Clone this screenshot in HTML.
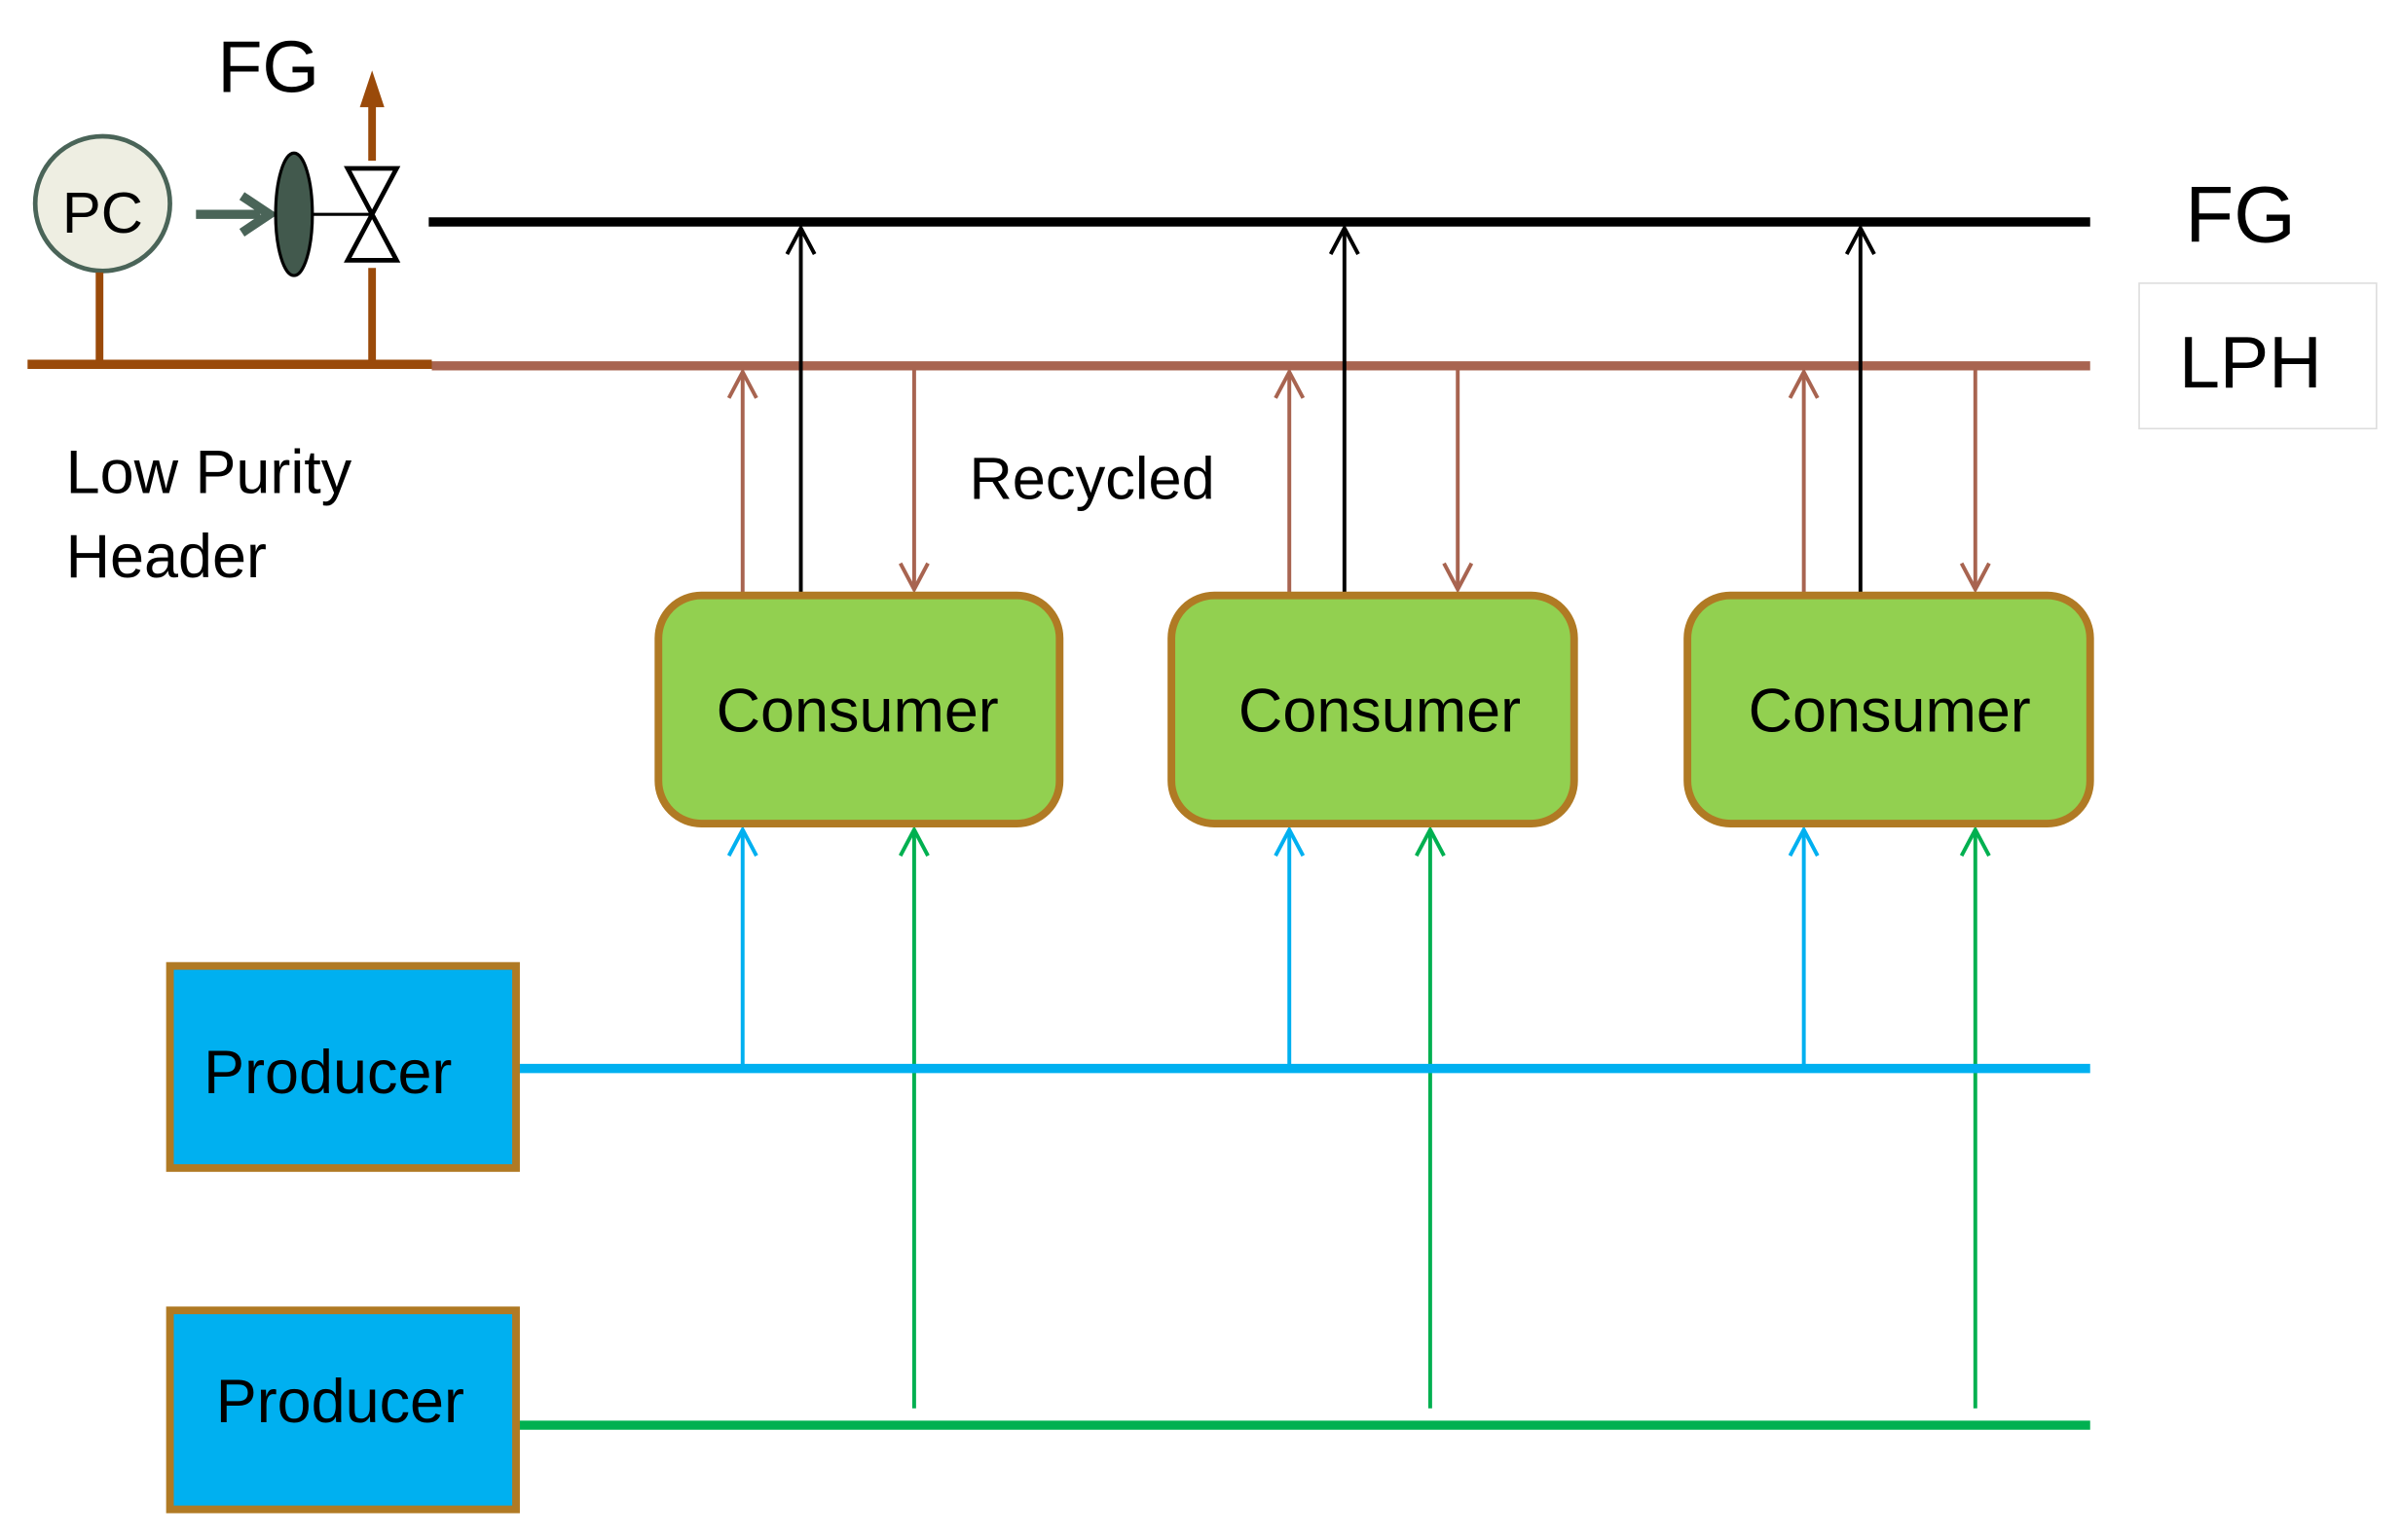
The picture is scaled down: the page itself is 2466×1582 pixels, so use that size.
<!DOCTYPE html>
<html><head><style>html,body{margin:0;padding:0;background:#fff}svg{display:block}</style></head>
<body>
<svg width="2466" height="1582" viewBox="0 0 1568 1006" preserveAspectRatio="none" xmlns="http://www.w3.org/2000/svg" font-family="Liberation Sans, sans-serif">
<text x="142" y="60" font-size="48">FG</text>
<line x1="243" y1="105" x2="243" y2="68" stroke="#9a4a0a" stroke-width="5"/>
<path d="M235,70 L243,46 L251,70 Z" fill="#9a4a0a"/>
<circle cx="67" cy="133" r="44" fill="#eeeee2" stroke="#4a6458" stroke-width="3"/>
<text x="67" y="152" font-size="38" text-anchor="middle">PC</text>
<line x1="65" y1="178" x2="65" y2="238" stroke="#9a4a0a" stroke-width="5"/>
<line x1="128" y1="140" x2="170" y2="140" stroke="#4a6458" stroke-width="6"/>
<path d="M158,128 L176,140 L158,152" fill="none" stroke="#4a6458" stroke-width="6"/>
<ellipse cx="192" cy="140" rx="12" ry="40" fill="#42594d" stroke="#000" stroke-width="2"/>
<line x1="204" y1="140" x2="243" y2="140" stroke="#000" stroke-width="2"/>
<path d="M227,110 L259,110 L227,170 L259,170 Z" fill="#fff" stroke="#000" stroke-width="3"/>
<line x1="243" y1="175" x2="243" y2="238" stroke="#9a4a0a" stroke-width="5"/>
<line x1="18" y1="238" x2="282" y2="238" stroke="#9a4a0a" stroke-width="6"/>
<line x1="282" y1="239" x2="1365" y2="239" stroke="#a86450" stroke-width="6"/>
<line x1="280" y1="145" x2="1365" y2="145" stroke="#000" stroke-width="6"/>
<text x="1427" y="158" font-size="52">FG</text>
<rect x="1397" y="185" width="155" height="95" fill="#fff" stroke="#ddd" stroke-width="1"/>
<text x="1423" y="253" font-size="48">LPH</text>
<text x="43" y="322" font-size="40">Low Purity</text>
<text x="43" y="377" font-size="40">Header</text>
<text x="633" y="326" font-size="39">Recycled</text>
<g stroke-width="2.5" fill="none">
<g stroke="#a86450">
<line x1="485" y1="389" x2="485" y2="243"/><path d="M476,260 L485,243 L494,260"/>
<line x1="597" y1="242" x2="597" y2="385"/><path d="M588,368 L597,385 L606,368"/>
<line x1="842" y1="389" x2="842" y2="243"/><path d="M833,260 L842,243 L851,260"/>
<line x1="952" y1="242" x2="952" y2="385"/><path d="M943,368 L952,385 L961,368"/>
<line x1="1178" y1="389" x2="1178" y2="243"/><path d="M1169,260 L1178,243 L1187,260"/>
<line x1="1290" y1="242" x2="1290" y2="385"/><path d="M1281,368 L1290,385 L1299,368"/>
</g>
<g stroke="#000">
<line x1="523" y1="389" x2="523" y2="149"/><path d="M514,166 L523,149 L532,166"/>
<line x1="878" y1="389" x2="878" y2="149"/><path d="M869,166 L878,149 L887,166"/>
<line x1="1215" y1="389" x2="1215" y2="149"/><path d="M1206,166 L1215,149 L1224,166"/>
</g>
<g stroke="#00b0f0">
<line x1="485" y1="698" x2="485" y2="542"/><path d="M476,559 L485,542 L494,559"/>
<line x1="842" y1="698" x2="842" y2="542"/><path d="M833,559 L842,542 L851,559"/>
<line x1="1178" y1="698" x2="1178" y2="542"/><path d="M1169,559 L1178,542 L1187,559"/>
</g>
<g stroke="#00b050">
<line x1="597" y1="920" x2="597" y2="542"/><path d="M588,559 L597,542 L606,559"/>
<line x1="934" y1="920" x2="934" y2="542"/><path d="M925,559 L934,542 L943,559"/>
<line x1="1290" y1="920" x2="1290" y2="542"/><path d="M1281,559 L1290,542 L1299,559"/>
</g>
</g>
<g fill="#92d050" stroke="#b07a24" stroke-width="5">
<rect x="430" y="389" width="262" height="149" rx="28"/>
<rect x="765" y="389" width="263" height="149" rx="28"/>
<rect x="1102" y="389" width="263" height="149" rx="28"/>
</g>
<g font-size="40" text-anchor="middle">
<text x="560" y="478">Consumer</text>
<text x="901" y="478">Consumer</text>
<text x="1234" y="478">Consumer</text>
</g>
<line x1="338" y1="698" x2="1365" y2="698" stroke="#00b0f0" stroke-width="6"/>
<line x1="338" y1="931" x2="1365" y2="931" stroke="#00b050" stroke-width="6"/>
<g fill="#00b0f0" stroke="#b07a24" stroke-width="5">
<rect x="111" y="631" width="226" height="132"/>
<rect x="111" y="856" width="226" height="130"/>
</g>
<text x="133" y="714" font-size="40">Producer</text>
<text x="141" y="929" font-size="40">Producer</text>
</svg>
</body></html>
